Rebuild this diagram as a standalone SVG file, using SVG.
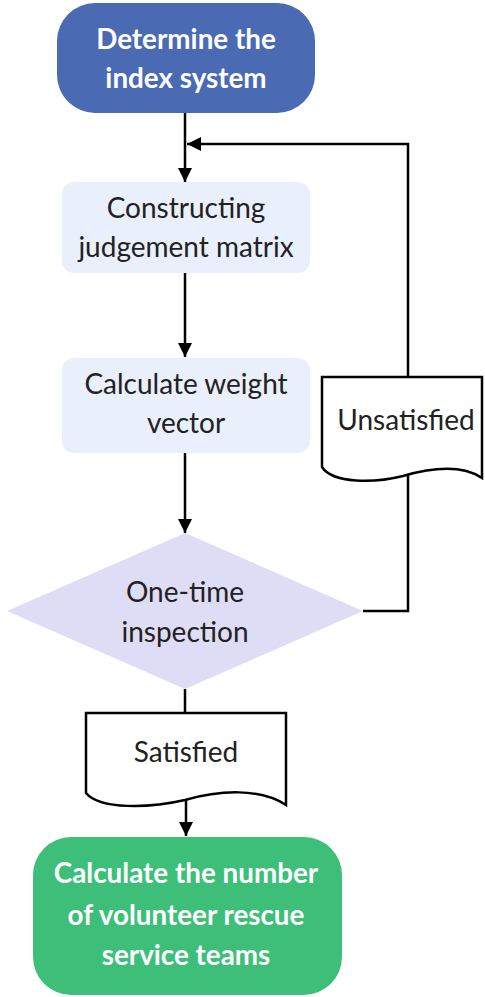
<svg xmlns="http://www.w3.org/2000/svg" width="485" height="997" viewBox="0 0 485 997">
<defs>
<marker id="ah" viewBox="0 0 10 10" refX="10" refY="5" markerWidth="14" markerHeight="14" markerUnits="userSpaceOnUse" orient="auto">
<path d="M0,0 L10,5 L0,10 Z" fill="#000"/>
</marker>
<style>
text{font-family:Lato,"Liberation Sans",sans-serif;font-size:28px;text-anchor:middle}
.w{fill:#fff;font-weight:bold;font-size:27.8px}
.d{fill:#222}
.ln{fill:none;stroke:#000;stroke-width:2.5}
.doc{fill:#fff;stroke:#000;stroke-width:2.5}
</style>
</defs>
<rect width="485" height="997" fill="#fff"/>
<g id="connectors">
<line class="ln" x1="185" y1="113" x2="185" y2="182" marker-end="url(#ah)"/>
<polyline class="ln" points="408,377 408,144 187,144" marker-end="url(#ah)"/>
<line class="ln" x1="185" y1="273" x2="185" y2="357" marker-end="url(#ah)"/>
<line class="ln" x1="185" y1="453" x2="185" y2="533" marker-end="url(#ah)"/>
<polyline class="ln" points="363,611 408,611 408,475"/>
<line class="ln" x1="185" y1="689" x2="185" y2="713"/>
<line class="ln" x1="186" y1="800" x2="186" y2="836" marker-end="url(#ah)"/>
</g>
<g id="n1">
<rect x="57" y="3" width="258" height="110" rx="38" fill="#4A6AB4"/>
<text class="w" x="186" y="49">Determine the</text>
<text class="w" x="186" y="88">index system</text>
</g>
<g id="n2">
<rect x="62" y="182" width="248" height="91" rx="12" fill="#EAF0FB"/>
<text class="d" x="186" y="218">Constructing</text>
<text class="d" x="186" y="257">judgement matrix</text>
</g>
<g id="n3">
<rect x="62" y="358" width="248" height="95" rx="12" fill="#EAF0FB"/>
<text class="d" x="186" y="394">Calculate weight</text>
<text class="d" x="186" y="433">vector</text>
</g>
<g id="n4">
<polygon points="185,533 363,611 185,689 7,611" fill="#DEDDF5"/>
<text class="d" x="185" y="602">One-time</text>
<text class="d" x="185" y="642">inspection</text>
</g>
<g id="n5">
<path class="doc" d="M322,377 H482 V478 C461,464 431,468 403,476 C375,483 333,484 322,467 Z"/>
<text class="d" x="406" y="430">Unsatisfied</text>
</g>
<g id="n6">
<path class="doc" d="M86,713 H286 V805 C260,788 220,790 185,800 C150,808 100,810 86,793 Z"/>
<text class="d" x="186" y="762">Satisfied</text>
</g>
<g id="n7">
<rect x="33" y="837" width="309" height="158" rx="38" fill="#3DBF79"/>
<text class="w" x="186" y="883">Calculate the number</text>
<text class="w" x="186" y="925">of volunteer rescue</text>
<text class="w" x="186" y="965">service teams</text>
</g>
</svg>
